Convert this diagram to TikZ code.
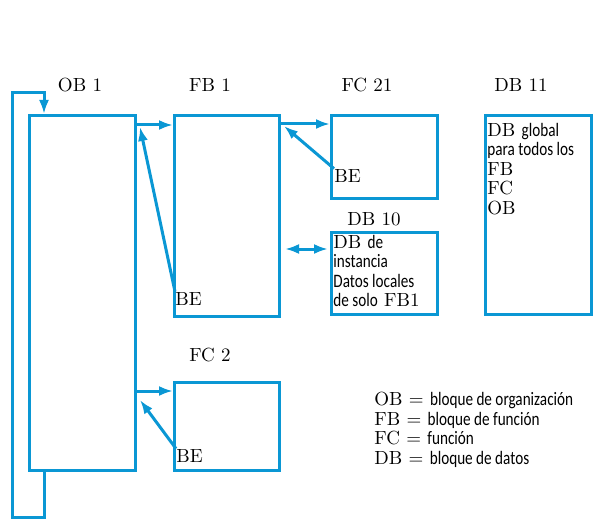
\documentclass[tikz,border=0pt]{standalone}
\usepackage{fontspec}
\newfontfamily\condsf[FakeStretch=0.8]{Carlito}
\usetikzlibrary{arrows.meta, positioning}
\definecolor{plcblue}{HTML}{0A97D4}
\newcommand{\cs}[1]{{\condsf #1}}

\begin{document}
\begin{tikzpicture}[
  x=0.5pt, y=-0.5pt,
  font=\fontsize{9.5}{9.7}\selectfont,
  blkbox/.style 2 args={
    rectangle, draw=plcblue, line width=1.5pt,
    inner sep=0pt, anchor=north west,
    minimum width=#1, minimum height=#2
  },
  blktitle/.style={anchor=base, inner sep=0pt},
  blktext/.style={anchor=north west, inner sep=0pt, align=left},
  lnk/.style={draw=plcblue, line width=1.5pt, -{Latex[length=7pt,width=5pt]}}
]
  \useasboundingbox (0,0) rectangle (610,519);

  % blocks
  \node[blkbox={53pt}{177.5pt}] (ob) at (28,114) {};
  \node[blkbox={52.5pt}{100.5pt}] (fb) at (173,114) {};
  \node[blkbox={53pt}{41.5pt}] (fc21) at (330,114) {};
  \node[blkbox={53pt}{41pt}] (db10) at (330,231) {};
  \node[blkbox={53pt}{99.5pt}] (db11) at (484,114) {};
  \node[blkbox={52.5pt}{44pt}] (fc2) at (173,381) {};

  % titles
  \node[blktitle] (obt) at (80,92) {OB 1};
  \node[blktitle] (fbt) at (210,92) {FB 1};
  \node[blktitle] (fc21t) at (367,92) {FC 21};
  \node[blktitle] (db11t) at (521,92) {DB 11};
  \node[blktitle] (db10t) at (374,225) {DB 10};
  \node[blktitle] (fc2t) at (210,361) {FC 2};

  % texts inside
  \node[blktext] (db10x) at (333,235)
    {DB \cs{de}\\ \cs{instancia}\\ \cs{Datos locales}\\ \cs{de solo} FB1};
  \node[blktext] (db11x) at (487,123)
    {DB \cs{global}\\ \cs{para todos los}\\ FB\\ FC\\ OB};
  \node[anchor=base west, inner sep=0pt] (befb) at (175,305) {BE};
  \node[anchor=base west, inner sep=0pt] (befc21) at (334,182) {BE};
  \node[anchor=base west, inner sep=0pt] (befc2) at (176,462) {BE};

  % legend
  \node[blktext] (leg) at (374,392)
    {OB = \cs{bloque de organización}\\
     FB = \cs{bloque de función}\\
     FC = \cs{función}\\
     DB = \cs{bloque de datos}};

  % calls
  \coordinate (fbin) at ([yshift=-5.5pt]fb.north west);
  \coordinate (fc21in) at ([yshift=-5pt]fc21.north west);
  \coordinate (fc2in) at ([yshift=-5pt]fc2.north west);
  \coordinate (db10in) at ([yshift=-9pt]db10.north west);
  \draw[lnk] (ob.east |- fbin) -- (fbin);
  \draw[lnk] (fb.east |- fc21in) -- (fc21in);
  \draw[lnk] (ob.east |- fc2in) -- (fc2in);
  \draw[lnk, {Latex[length=7pt,width=5pt]}-{Latex[length=7pt,width=5pt]},
    shorten <=2pt, shorten >=1pt] (fb.east |- db10in) -- (db10in);

  % returns (BE)
  \coordinate (obret1) at ([xshift=1.5pt,yshift=-6.5pt]ob.north east);
  \coordinate (fbret) at ([xshift=1.5pt,yshift=-6pt]fb.north east);
  \coordinate (obret2) at ([xshift=1.5pt,yshift=-9.5pt]ob.east |- fc2.north);
  \draw[lnk] (befb.north west) -- (obret1);
  \draw[lnk] (befc21.north west) -- (fbret);
  \draw[lnk] (befc2.north west) -- (obret2);

  % cycle loop of OB 1
  \draw[lnk] ([xshift=8pt]ob.south west) -- ++(0,45) -| (12,93)
    -| ([xshift=8pt]ob.north west);
\end{tikzpicture}
\end{document}
